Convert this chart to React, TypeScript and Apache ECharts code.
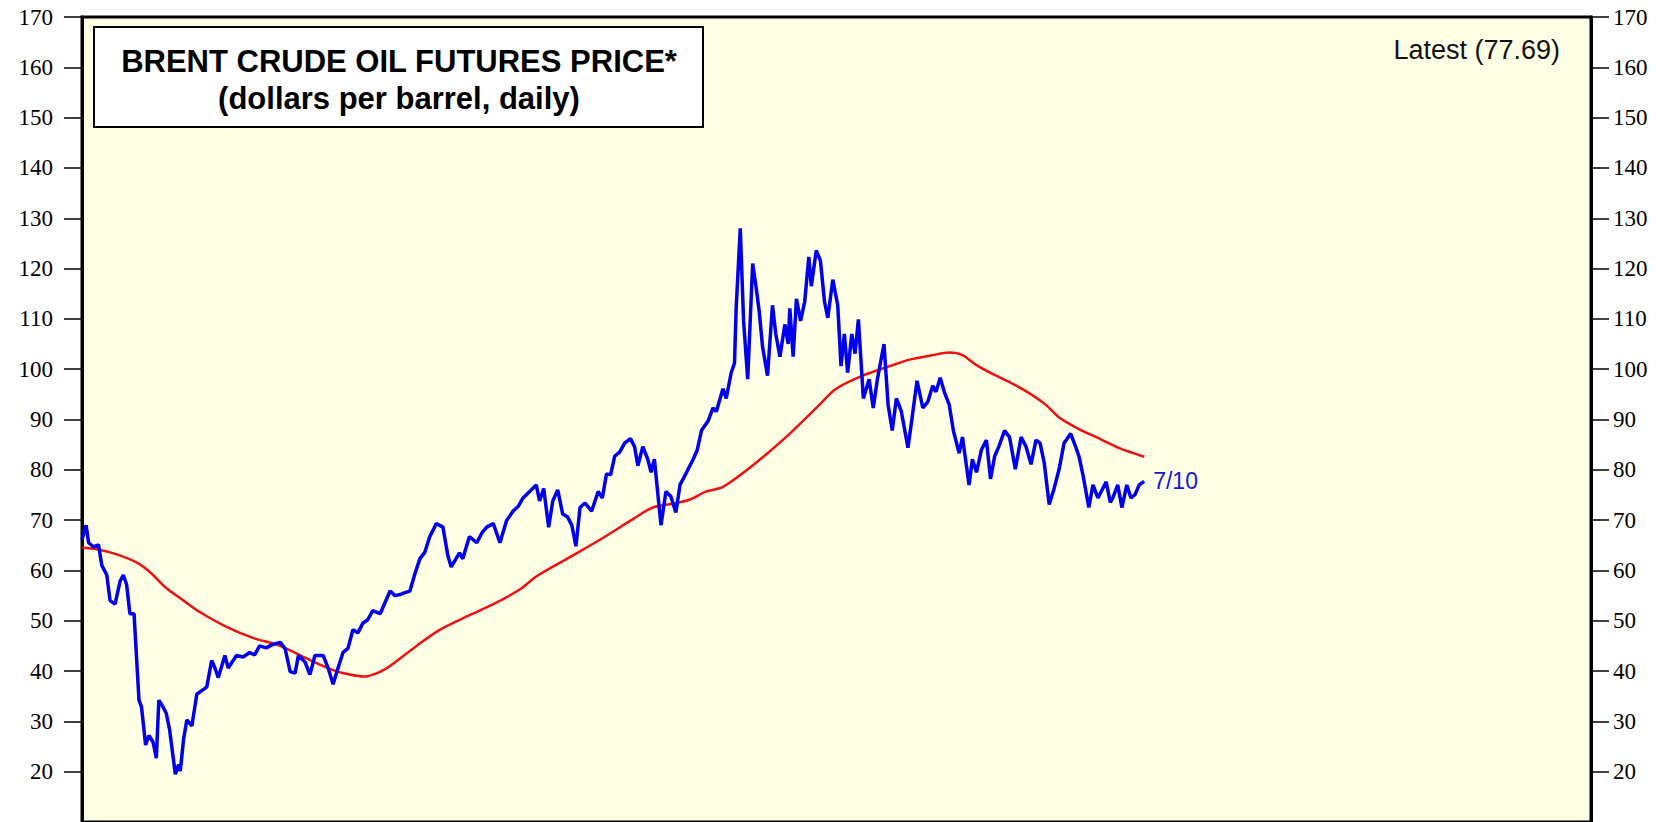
import React, { useEffect, useRef } from "react";
import * as echarts from "echarts";

// Brent crude oil futures price, daily
const priceDates = [
  "2020-01-01","2020-01-06","2020-01-09","2020-01-15","2020-01-21","2020-01-25","2020-01-31","2020-02-04","2020-02-10","2020-02-16",
  "2020-02-20","2020-02-24","2020-02-28","2020-03-04","2020-03-10","2020-03-13","2020-03-18","2020-03-22","2020-03-27","2020-03-31",
  "2020-04-03","2020-04-08","2020-04-12","2020-04-16","2020-04-23","2020-04-27","2020-04-29","2020-05-03","2020-05-07","2020-05-13",
  "2020-05-19","2020-05-25","2020-05-31","2020-06-06","2020-06-10","2020-06-14","2020-06-22","2020-06-26","2020-07-06","2020-07-14",
  "2020-07-22","2020-07-28","2020-08-03","2020-08-11","2020-08-19","2020-08-28","2020-09-03","2020-09-09","2020-09-15","2020-09-19",
  "2020-09-27","2020-10-03","2020-10-09","2020-10-19","2020-10-25","2020-10-31","2020-11-06","2020-11-12","2020-11-18","2020-11-24",
  "2020-11-30","2020-12-06","2020-12-12","2020-12-18","2020-12-27",
  "2021-01-08","2021-01-14","2021-01-20","2021-01-26","2021-02-01","2021-02-07","2021-02-13","2021-02-19","2021-02-25","2021-03-05",
  "2021-03-13","2021-03-19","2021-03-23","2021-04-02","2021-04-06","2021-04-14","2021-04-23","2021-04-29","2021-05-05","2021-05-13",
  "2021-05-21","2021-05-29","2021-06-06","2021-06-12","2021-06-18","2021-06-26","2021-07-04","2021-07-08","2021-07-13","2021-07-19",
  "2021-07-24","2021-07-30","2021-08-05","2021-08-11","2021-08-16","2021-08-21","2021-08-26","2021-09-01","2021-09-09","2021-09-17",
  "2021-09-22","2021-09-27","2021-10-02","2021-10-07","2021-10-13","2021-10-19","2021-10-26","2021-10-31","2021-11-04","2021-11-10",
  "2021-11-16","2021-11-20","2021-11-24","2021-12-02","2021-12-08","2021-12-14","2021-12-20","2021-12-25",
  "2022-01-02","2022-01-10","2022-01-15","2022-01-20","2022-01-28","2022-02-03","2022-02-07","2022-02-15","2022-02-19","2022-02-25",
  "2022-03-01","2022-03-03","2022-03-08","2022-03-12","2022-03-17","2022-03-23","2022-03-27","2022-03-31","2022-04-04","2022-04-10",
  "2022-04-16","2022-04-20","2022-04-25","2022-05-01","2022-05-05","2022-05-07","2022-05-11","2022-05-15","2022-05-20","2022-05-25",
  "2022-05-30","2022-06-02","2022-06-08","2022-06-13","2022-06-18","2022-06-22","2022-06-28","2022-07-04","2022-07-08","2022-07-12",
  "2022-07-16","2022-07-21","2022-07-25","2022-07-29","2022-08-04","2022-08-11","2022-08-16","2022-08-21","2022-08-29","2022-09-03",
  "2022-09-08","2022-09-13","2022-09-19","2022-09-27","2022-10-01","2022-10-08","2022-10-15","2022-10-21","2022-10-27","2022-10-31",
  "2022-11-05","2022-11-10","2022-11-16","2022-11-21","2022-11-28","2022-12-02","2022-12-10","2022-12-14","2022-12-19","2022-12-25",
  "2022-12-31","2023-01-05","2023-01-10","2023-01-15","2023-01-22","2023-01-28","2023-02-04","2023-02-11","2023-02-17","2023-02-23",
  "2023-03-01","2023-03-06","2023-03-11","2023-03-17","2023-03-23","2023-03-29","2023-04-04","2023-04-12","2023-04-18","2023-04-22",
  "2023-04-27","2023-05-04","2023-05-09","2023-05-15","2023-05-20","2023-05-25","2023-05-30","2023-06-02","2023-06-08","2023-06-13",
  "2023-06-19","2023-06-24","2023-06-29","2023-07-04","2023-07-10",
];
const priceValues = [
  66.1,69.0,65.5,64.7,65.1,61.0,59.1,54.0,53.3,57.8,
  59.1,57.2,51.4,51.4,34.2,32.9,25.3,27.2,25.9,22.7,
  34.2,32.9,31.6,28.4,19.5,21.4,20.1,26.5,30.3,29.1,
  35.4,36.1,36.8,42.1,40.6,38.7,43.1,40.6,43.1,42.8,
  43.7,43.2,45.0,44.6,45.3,45.7,44.4,39.9,39.6,43.1,
  41.8,39.3,43.1,43.1,40.6,37.4,40.6,43.7,44.5,48.2,
  47.6,49.5,50.2,52.0,51.4,
  55.9,55.0,55.2,55.6,55.9,59.3,62.3,63.6,66.7,69.3,
  68.6,62.9,60.7,63.5,62.3,66.7,65.5,67.4,68.6,69.3,
  65.5,69.9,71.8,72.7,74.4,75.7,77.0,73.8,76.3,68.6,
  73.8,76.0,71.2,70.6,69.0,64.8,72.5,73.4,71.8,75.7,
  74.4,79.2,79.0,82.7,83.5,85.3,86.2,84.6,80.8,84.6,
  82.1,79.5,82.1,69.0,75.7,74.7,71.5,77.0,
  79.5,82.1,84.0,87.8,89.7,92.3,91.6,96.1,94.2,99.3,
  101.2,112.1,128.0,109.6,98.0,121.0,116.5,111.4,104.4,98.7,
  112.7,107.0,102.5,108.9,105.0,112.1,102.5,114.0,109.6,113.4,
  122.3,116.5,123.6,121.6,113.4,110.2,117.8,112.7,100.6,107.0,
  99.3,107.0,103.1,109.9,94.2,98.0,92.3,98.0,105.0,92.9,
  87.8,94.2,91.6,84.4,89.1,97.7,92.3,93.5,96.7,95.5,
  98.3,95.5,92.9,87.8,83.3,86.5,77.0,82.1,79.5,84.0,
  85.9,78.2,82.7,84.6,87.8,86.5,80.1,86.5,84.6,81.1,
  85.9,85.3,81.4,73.1,76.3,80.1,85.3,87.2,84.6,82.7,
  78.9,72.5,77.0,74.4,76.0,77.6,73.5,74.4,77.0,72.5,
  77.0,74.4,75.1,77.0,77.69,
];

// 200-day moving average
const maDates = [
  "2020-01-01","2020-01-19","2020-02-12","2020-03-07","2020-03-23","2020-04-12","2020-05-03","2020-05-23","2020-06-24","2020-07-26",
  "2020-08-28","2020-09-29","2020-10-31","2020-11-20","2020-12-08","2020-12-23","2021-01-04","2021-01-12","2021-02-09","2021-03-09",
  "2021-04-10","2021-05-13","2021-06-14","2021-07-04","2021-08-10","2021-09-19","2021-10-29","2021-11-22","2021-12-21","2022-01-06",
  "2022-01-26","2022-02-15","2022-03-27","2022-05-07","2022-06-08","2022-07-02","2022-08-03","2022-09-05","2022-09-29","2022-10-27",
  "2022-11-16","2022-12-02","2022-12-18","2023-01-08","2023-02-01","2023-02-25","2023-03-13","2023-03-29","2023-04-22","2023-05-17",
  "2023-06-10","2023-07-10",
];
const maValues = [
  64.5,64.2,63.2,61.6,59.7,56.5,54.0,51.7,48.8,46.6,
  45.0,42.5,40.2,39.3,38.9,39.6,40.6,41.5,45.0,48.2,
  50.8,53.3,56.2,58.8,62.3,66.1,70.2,72.5,73.4,74.1,
  75.7,76.6,81.4,87.2,92.3,96.1,98.7,100.6,101.9,102.8,
  103.3,102.8,100.9,99.0,97.1,94.8,92.9,90.4,88.1,86.2,
  84.3,82.6,
];

const TITLE_LINE1 = "BRENT CRUDE OIL FUTURES PRICE*";
const TITLE_LINE2 = "(dollars per barrel, daily)";
const LATEST_LABEL = "Latest (77.69)";
const END_LABEL = "7/10";
const X_MIN = "2020-01-01";
const X_MAX = "2025-01-01";
const Y_MIN = 10;
const Y_MAX = 170;
const Y_STEP = 10;

const serif = '"Liberation Serif", "Times New Roman", Times, serif';
const sans = '"Liberation Sans", Arial, Helvetica, sans-serif';

function yAxisDef(position: "left" | "right", margin: number) {
  return {
    type: "value",
    position,
    min: Y_MIN,
    max: Y_MAX,
    interval: Y_STEP,
    splitLine: { show: false },
    axisLine: { show: true, lineStyle: { color: "#000", width: 3 } },
    axisTick: { show: true, inside: false, length: 18, lineStyle: { color: "#000", width: 1.5 } },
    axisLabel: {
      show: true,
      margin,
      showMinLabel: false,
      color: "#000",
      fontFamily: serif,
      fontSize: 23,
    },
  };
}

export default function App() {
  const ref = useRef<HTMLDivElement>(null);
  useEffect(() => {
    if (!ref.current) return;
    const chart = echarts.init(ref.current, null, { renderer: "svg" });
    const price = priceDates.map((d, i) => [d, priceValues[i]]);
    const ma = maDates.map((d, i) => [d, maValues[i]]);
    chart.setOption({
      animation: false,
      backgroundColor: "#ffffff",
      grid: {
        left: 82,
        top: 17,
        width: 1509,
        height: 835,
        show: true,
        backgroundColor: "#ffffe6",
        borderColor: "#000",
        borderWidth: 3,
      },
      xAxis: {
        type: "time",
        min: X_MIN,
        max: X_MAX,
        show: false,
        splitLine: { show: false },
      },
      yAxis: [yAxisDef("left", 29), yAxisDef("right", 22)],
      series: [
        {
          name: "200-day MA",
          type: "line",
          data: ma,
          yAxisIndex: 0,
          showSymbol: false,
          smooth: 0.3,
          lineStyle: { color: "#ee1111", width: 2.5 },
          z: 2,
        },
        {
          name: "Brent",
          type: "line",
          data: price,
          yAxisIndex: 0,
          showSymbol: false,
          lineStyle: { color: "#0000ee", width: 3.5 },
          z: 3,
          endLabel: {
            show: true,
            formatter: END_LABEL,
            color: "#1414dc",
            fontFamily: sans,
            fontSize: 23,
            distance: 9,
          },
        },
      ],
      graphic: [
        {
          type: "group",
          left: 93,
          top: 26,
          children: [
            {
              type: "rect",
              shape: { x: 0, y: 0, width: 609, height: 100 },
              style: { fill: "#ffffff", stroke: "#000", lineWidth: 2 },
            },
            {
              type: "text",
              x: 305,
              y: 34,
              style: {
                text: TITLE_LINE1,
                fontFamily: sans,
                fontWeight: "bold",
                fontSize: 31,
                fill: "#000",
                align: "center",
                verticalAlign: "middle",
              },
            },
            {
              type: "text",
              x: 305,
              y: 71,
              style: {
                text: TITLE_LINE2,
                fontFamily: sans,
                fontWeight: "bold",
                fontSize: 31,
                fill: "#000",
                align: "center",
                verticalAlign: "middle",
              },
            },
          ],
        },
        {
          type: "text",
          right: 1656 - 1560,
          top: 36,
          style: {
            text: LATEST_LABEL,
            fontFamily: sans,
            fontSize: 27,
            fill: "#111",
          },
        },
      ],
    });
    return () => chart.dispose();
  }, []);
  return (
    <div
      ref={ref}
      style={{ position: "fixed", left: 0, top: 0, width: 1656, height: 822 }}
    />
  );
}
